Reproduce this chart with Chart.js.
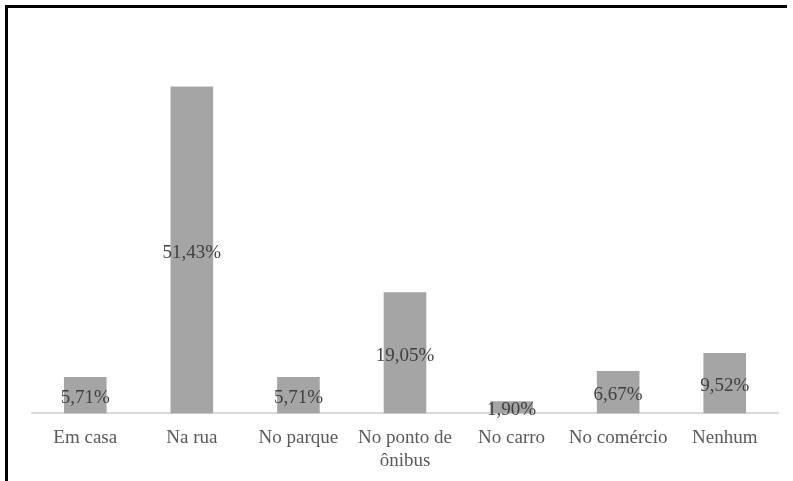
<!DOCTYPE html>
<html>
<head>
<meta charset="utf-8">
<script src="https://cdn.jsdelivr.net/npm/chart.js@4/dist/chart.umd.min.js"></script>
<style>
  html, body { margin: 0; padding: 0; background: #fff; }
  #wrap { position: relative; width: 793px; height: 481px; overflow: hidden; }
  #frameTop { position: absolute; left: 5px; top: 5px; width: 782px; height: 3px; background: #000; }
  #frameLeft { position: absolute; left: 5px; top: 5px; width: 3px; height: 476px; background: #000; }
  canvas { position: absolute; left: 0; top: 0; }
  #fontwarm { position: absolute; left: -1000px; top: 0; font: 19px "Liberation Serif"; }
</style>
</head>
<body>
<div id="wrap">
  <canvas id="c" width="793" height="485"></canvas>
  <div id="frameTop"></div>
  <div id="frameLeft"></div>
</div>
<div id="fontwarm">Em casa 5,71% ônibus</div>
<script>
const categories = ["Em casa", "Na rua", "No parque", ["No ponto de", "ônibus"], "No carro", "No comércio", "Nenhum"];
const values = [5.71, 51.43, 5.71, 19.05, 1.90, 6.67, 9.52];
const valueLabels = ["5,71%", "51,43%", "5,71%", "19,05%", "1,90%", "6,67%", "9,52%"];

const FONT = '"Liberation Serif", "Times New Roman", Tinos, serif';

const centerLabels = {
  id: 'centerLabels',
  afterDatasetsDraw(chart) {
    const ctx = chart.ctx;
    const meta = chart.getDatasetMeta(0);
    ctx.save();
    ctx.font = '19px ' + FONT;
    ctx.fillStyle = '#404040';
    ctx.textAlign = 'center';
    ctx.textBaseline = 'middle';
    meta.data.forEach((bar, i) => {
      const p = bar.getProps(['x', 'y', 'base'], true);
      ctx.fillText(valueLabels[i], p.x, (p.y + p.base) / 2 + 3);
    });
    ctx.restore();
  }
};

function draw() {
  new Chart(document.getElementById('c'), {
    type: 'bar',
    data: {
      labels: categories,
      datasets: [{
        data: values,
        backgroundColor: '#a5a5a5',
        borderWidth: 0,
        barPercentage: 0.4,
        categoryPercentage: 1.0
      }]
    },
    options: {
      responsive: false,
      animation: false,
      events: [],
      layout: { padding: { left: 32, right: 15, top: 32, bottom: 0 } },
      plugins: { legend: { display: false }, tooltip: { enabled: false }, title: { display: false } },
      scales: {
        x: {
          grid: { display: false, drawTicks: false },
          border: { display: true, color: '#d9d9d9', width: 2 },
          ticks: {
            color: '#595959',
            padding: 13,
            maxRotation: 0,
            autoSkip: false,
            font: { family: FONT, size: 19, lineHeight: 1.2 }
          }
        },
        y: { display: false, min: 0, max: 60 }
      }
    },
    plugins: [centerLabels]
  });
}

if (document.fonts && document.fonts.load) {
  document.fonts.load('19px "Liberation Serif"').then(draw, draw);
} else {
  draw();
}
</script>
</body>
</html>
